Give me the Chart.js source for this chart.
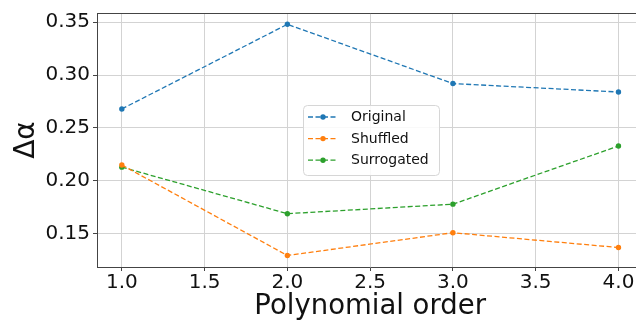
<!DOCTYPE html>
<html>
<head>
<meta charset="utf-8">
<script src="https://cdn.jsdelivr.net/npm/chart.js@4/dist/chart.umd.min.js"></script>
<style>
  html, body { margin: 0; padding: 0; background: #fff; overflow: hidden; width: 636px; height: 320px; }
  #wrap { width: 646px; height: 320px; }
</style>
</head>
<body>
<div id="wrap"><canvas id="c" width="646" height="320"></canvas></div>
<script>
// Polynomial order on x, Δα per method on y
const orders = [1, 2, 3, 4];
const original = [0.268, 0.348, 0.292, 0.284];
const shuffled = [0.215, 0.1295, 0.151, 0.137];
const surrogated = [0.213, 0.169, 0.178, 0.233];

const xTicks = [1.0, 1.5, 2.0, 2.5, 3.0, 3.5, 4.0];
const yTicks = [0.15, 0.20, 0.25, 0.30, 0.35];

const seriesNames = ['Original', 'Shuffled', 'Surrogated'];
const seriesColors = ['#1f77b4', '#ff7f0e', '#2ca02c'];
const seriesValues = [original, shuffled, surrogated];

const FONT = 'DejaVu Sans';
const DASH = [5, 2.5];

const datasets = seriesValues.map((vals, i) => ({
  label: seriesNames[i],
  data: orders.map((x, j) => ({ x: x, y: vals[j] })),
  borderColor: seriesColors[i],
  backgroundColor: seriesColors[i],
  borderWidth: 1.3,
  borderDash: DASH,
  pointRadius: 2.7,
  pointBorderWidth: 0,
  pointHoverRadius: 2.7,
  tension: 0,
  fill: false
}));

// top spine, like a boxed axes frame
const frame = {
  id: 'frame',
  afterDatasetsDraw(chart) {
    const { ctx, chartArea: a } = chart;
    ctx.save();
    ctx.strokeStyle = '#444';
    ctx.lineWidth = 1;
    ctx.beginPath();
    ctx.moveTo(a.left, a.top + 0.5);
    ctx.lineTo(a.right, a.top + 0.5);
    ctx.stroke();
    ctx.restore();
  }
};

// boxed legend inside the axes
const boxLegend = {
  id: 'boxLegend',
  afterDraw(chart) {
    const { ctx, chartArea: a } = chart;
    const x0 = a.left + 206, y0 = 105, w = 136, h = 70, r = 4;
    ctx.save();
    ctx.beginPath();
    ctx.roundRect(x0 + 0.5, y0 + 0.5, w, h, r);
    ctx.fillStyle = 'rgba(255,255,255,0.85)';
    ctx.fill();
    ctx.strokeStyle = '#d6d6d6';
    ctx.lineWidth = 1;
    ctx.stroke();
    ctx.font = '14px "' + FONT + '"';
    ctx.textBaseline = 'middle';
    ctx.textAlign = 'left';
    chart.data.datasets.forEach((ds, i) => {
      const cy = y0 + 12 + i * 21.6;
      ctx.strokeStyle = ds.borderColor;
      ctx.lineWidth = 1.3;
      ctx.setLineDash(DASH);
      ctx.beginPath();
      ctx.moveTo(x0 + 5, cy);
      ctx.lineTo(x0 + 34, cy);
      ctx.stroke();
      ctx.setLineDash([]);
      ctx.fillStyle = ds.borderColor;
      ctx.beginPath();
      ctx.arc(x0 + 20, cy, 2.7, 0, Math.PI * 2);
      ctx.fill();
      ctx.fillStyle = '#111';
      ctx.fillText(ds.label, x0 + 48, cy + 0.5);
    });
    ctx.restore();
  }
};

new Chart(document.getElementById('c'), {
  type: 'line',
  data: { datasets: datasets },
  options: {
    responsive: false,
    animation: false,
    devicePixelRatio: 1,
    layout: { padding: { left: 0, top: 13, right: 0, bottom: 0 } },
    plugins: { legend: { display: false }, tooltip: { enabled: false } },
    scales: {
      x: {
        type: 'linear',
        min: 0.85,
        max: 4.15,
        afterBuildTicks(scale) { scale.ticks = xTicks.map(v => ({ value: v })); },
        afterFit(scale) { scale.height = 53; scale.paddingLeft = 0; scale.paddingRight = 0; },
        ticks: {
          color: '#111',
          font: { family: FONT, size: 20 },
          padding: 0,
          maxRotation: 0,
          autoSkip: false,
          callback: v => Number(v).toFixed(1)
        },
        grid: { color: '#d3d3d3', lineWidth: 1, tickLength: 4, tickColor: '#444' },
        border: { display: true, color: '#444', width: 1 },
        title: {
          display: true,
          text: 'Polynomial order',
          color: '#111',
          font: { family: FONT, size: 27.5 },
          padding: { top: 0, bottom: -3 }
        }
      },
      y: {
        type: 'linear',
        min: 0.1186,
        max: 0.3587,
        afterBuildTicks(scale) { scale.ticks = yTicks.map(v => ({ value: v })); },
        afterFit(scale) { scale.width = 97; scale.paddingTop = 0; scale.paddingBottom = 0; },
        ticks: {
          color: '#111',
          font: { family: FONT, size: 20 },
          padding: 3,
          autoSkip: false,
          callback: v => Number(v).toFixed(2)
        },
        grid: { color: '#d3d3d3', lineWidth: 1, tickLength: 4, tickColor: '#444' },
        border: { display: true, color: '#444', width: 1 },
        title: {
          display: true,
          text: 'Δα',
          color: '#111',
          font: { family: FONT, size: 28 },
          padding: { top: 10, bottom: 0 }
        }
      }
    }
  },
  plugins: [frame, boxLegend]
});
</script>
</body>
</html>
